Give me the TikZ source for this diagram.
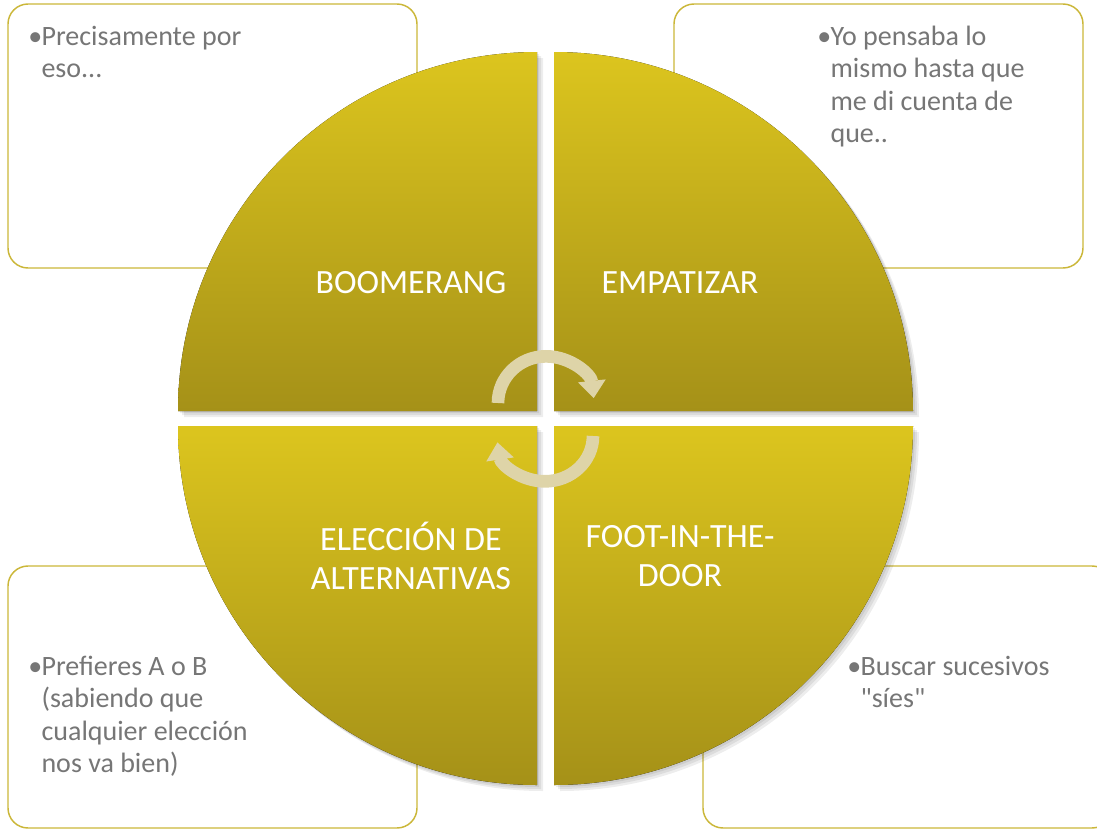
\documentclass[tikz,border=0pt]{standalone}
\usepackage{fontspec}
\setmainfont{Carlito}[Ligatures=TeXOff]
\usepackage{xcolor}
\usetikzlibrary{arrows.meta}

\definecolor{qtop}{RGB}{220,197,30}
\definecolor{qbot}{RGB}{165,145,24}
\definecolor{boxline}{RGB}{203,183,57}
\definecolor{bodygrey}{RGB}{118,118,118}
\definecolor{arrowfill}{RGB}{222,212,168}

\begin{document}
\begin{tikzpicture}[x=0.75pt,y=-0.75pt]
        \tikzstyle{every node}+=[inner sep=0pt]
        \tikzstyle{notebox}=[draw=boxline, line width=1.1pt, rounded corners=15pt, fill=white]
        \tikzstyle{quad}=[top color=qtop, bottom color=qbot]
        \tikzstyle{qshadow}=[fill=black, opacity=0.07]
        \tikzstyle{label}=[text=white, align=center, font=\fontsize{25.5}{29}\selectfont]
        \tikzstyle{note}=[text=bodygrey, anchor=base west, font=\fontsize{21}{24.4}\selectfont]
        \tikzstyle{turn}=[draw=arrowfill, line width=9.5pt, -{Triangle[width=20pt,length=13pt]}]
        \clip (0,0) rectangle (1097,829);
        \draw [notebox] (8,4) rectangle (417,268);
        \draw [notebox] (674,4) rectangle (1083,268);
        \draw [notebox] (8,566) rectangle (417,828);
        \draw [notebox] (703,566) rectangle (1112,828);
        \node [note] (boomnote) at (28,45) {\textbullet\kern-0.5pt\begin{tabular}[t]{@{}l@{}}Precisamente por\\eso...\end{tabular}};
        \node [note] (empanote) at (817,45) {\textbullet\kern-0.5pt\begin{tabular}[t]{@{}l@{}}Yo pensaba lo\\mismo hasta que\\me di cuenta de\\que..\end{tabular}};
        \node [note] (altnote) at (28,675) {\textbullet\kern-0.5pt\begin{tabular}[t]{@{}l@{}}Prefieres A o B\\(sabiendo que\\cualquier elección\\nos va bien)\end{tabular}};
        \node [note] (footnote) at (847,675) {\textbullet\kern-0.5pt\begin{tabular}[t]{@{}l@{}}Buscar sucesivos\\"síes"\end{tabular}};
        \foreach \d in {2,4,6} {
          \fill [qshadow] (537+\d,411+\d) -- (178+\d,411+\d) arc[start angle=180, end angle=90, radius=269.25pt] -- cycle;
          \fill [qshadow] (554+\d,411+\d) -- (554+\d,52+\d) arc[start angle=90, end angle=0, radius=269.25pt] -- cycle;
          \fill [qshadow] (537+\d,426+\d) -- (537+\d,785+\d) arc[start angle=270, end angle=180, radius=269.25pt] -- cycle;
          \fill [qshadow] (554+\d,426+\d) -- (913+\d,426+\d) arc[start angle=0, end angle=-90, radius=269.25pt] -- cycle;
        }
        \fill [quad] (537,411) -- (178,411) arc[start angle=180, end angle=90, radius=269.25pt] -- cycle;
        \fill [quad] (554,411) -- (554,52) arc[start angle=90, end angle=0, radius=269.25pt] -- cycle;
        \fill [quad] (537,426) -- (537,785) arc[start angle=270, end angle=180, radius=269.25pt] -- cycle;
        \fill [quad] (554,426) -- (913,426) arc[start angle=0, end angle=-90, radius=269.25pt] -- cycle;
        \node [label, anchor=base] (boomerang) at (411,293) {BOOMERANG};
        \node [label, anchor=base] (empatizar) at (680,293) {EMPATIZAR};
        \node [label] (eleccion) at (411,556) {ELECCIÓN DE\\ALTERNATIVAS};
        \node [label] (foot) at (680,556) {FOOT-IN-THE-\\DOOR};
        \draw [turn] (498,403) arc[start angle=180, end angle=6, x radius=36pt, y radius=35pt];
        \draw [turn] (593,436) arc[start angle=0, end angle=-172, x radius=36pt, y radius=34pt];
        \end{tikzpicture}
\end{document}
